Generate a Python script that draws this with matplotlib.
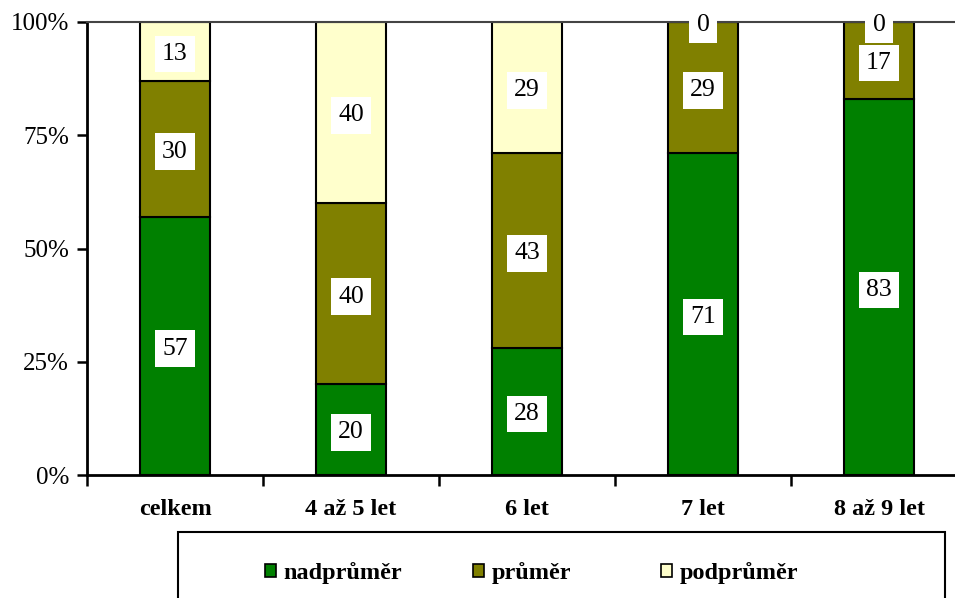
import numpy as np
import matplotlib
matplotlib.use("Agg")
import matplotlib.pyplot as plt
from matplotlib.patches import Rectangle

categories = ["celkem", "4 až 5 let", "6 let", "7 let", "8 až 9 let"]
nadprumer = [57, 20, 28, 71, 83]
prumer = [30, 40, 43, 29, 17]
podprumer = [13, 40, 29, 0, 0]

series = [
    ("nadprůměr", nadprumer, "#008000"),
    ("průměr", prumer, "#808000"),
    ("podprůměr", podprumer, "#FFFFCC"),
]

plt.rcParams['font.family'] = ['Liberation Serif', 'DejaVu Serif']

fig = plt.figure(figsize=(9.55, 5.98), dpi=100)
ax = fig.add_axes([87 / 955, 123 / 598, 880 / 955, 453 / 598])

x = np.arange(len(categories))
bottom = np.zeros(len(categories))
handles = []
for name, vals, color in series:
    vals = np.array(vals, dtype=float)
    bars = ax.bar(x, vals, 0.4, bottom=bottom, color=color,
                  edgecolor="black", linewidth=1.5, label=name, zorder=2)
    handles.append(bars)
    for xi, b, v in zip(x, bottom, vals):
        ax.text(xi, b + v / 2 - 0.6, f"{v:.0f}", ha="center", va="center",
                fontsize=18.5, zorder=4,
                bbox=dict(boxstyle="square,pad=0.28", fc="white", ec="none"))
    bottom += vals

ax.set_xlim(-0.5, 4.5)
ax.set_ylim(0, 100)
ax.set_yticks([0, 25, 50, 75, 100])
ax.set_yticklabels(["0%", "25%", "50%", "75%", "100%"], fontsize=18)
ax.set_xticks(np.arange(-0.5, 5, 1), minor=False)
ax.set_xticklabels([])
ax.set_xticks(x, minor=True)
ax.set_xticklabels(categories, minor=True, fontsize=17.5, fontweight="bold")
ax.tick_params(axis="x", which="major", length=8, width=1.8, direction="out")
ax.tick_params(axis="x", which="minor", length=0, pad=17)
ax.tick_params(axis="y", length=7, width=1.8, direction="out", pad=6)

for side in ["left", "bottom"]:
    ax.spines[side].set_linewidth(2)
ax.spines["right"].set_visible(False)
ax.spines["top"].set_color("#444444")
ax.spines["top"].set_linewidth(1.5)

# legend frame runs off the bottom edge
fig.patches.append(Rectangle((178 / 955, -0.05), 767 / 955, (598 - 532) / 598 + 0.05,
                             transform=fig.transFigure, fill=False,
                             edgecolor="black", linewidth=1.5))

# one legend per entry so each sits at its own slot
legend_x = [265, 473, 661]
for h, (name, _, _), lx in zip(handles, series, legend_x):
    leg = fig.legend(handles=[h], labels=[name], loc="center left",
                     bbox_to_anchor=(lx / 955, 1 - 573 / 598),
                     frameon=False, prop={"size": 17.5, "weight": "bold"},
                     handlelength=0.45, handleheight=0.45, handletextpad=0.3,
                     borderpad=0, borderaxespad=0)
    for lh in leg.legend_handles:
        lh.set_linewidth(1.2)

fig.savefig("out.png", dpi=100)
